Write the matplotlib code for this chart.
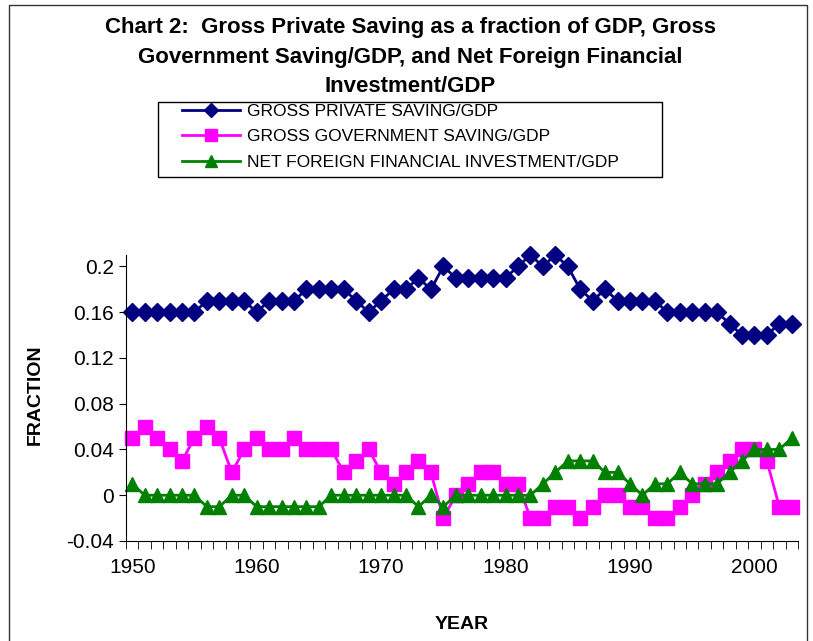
import numpy as np
import matplotlib
matplotlib.use('Agg')
from matplotlib import pyplot as plt
from matplotlib.patches import Rectangle
from matplotlib.ticker import FixedLocator, FuncFormatter

years = np.arange(1950, 2004)

private = [0.16, 0.16, 0.16, 0.16, 0.16, 0.16, 0.17, 0.17, 0.17, 0.17,
           0.16, 0.17, 0.17, 0.17, 0.18, 0.18, 0.18, 0.18, 0.17, 0.16,
           0.17, 0.18, 0.18, 0.19, 0.18, 0.20, 0.19, 0.19, 0.19, 0.19,
           0.19, 0.20, 0.21, 0.20, 0.21, 0.20, 0.18, 0.17, 0.18, 0.17,
           0.17, 0.17, 0.17, 0.16, 0.16, 0.16, 0.16, 0.16, 0.15, 0.14,
           0.14, 0.14, 0.15, 0.15]

government = [0.05, 0.06, 0.05, 0.04, 0.03, 0.05, 0.06, 0.05, 0.02, 0.04,
              0.05, 0.04, 0.04, 0.05, 0.04, 0.04, 0.04, 0.02, 0.03, 0.04,
              0.02, 0.01, 0.02, 0.03, 0.02, -0.02, 0.00, 0.01, 0.02, 0.02,
              0.01, 0.01, -0.02, -0.02, -0.01, -0.01, -0.02, -0.01, 0.00, 0.00,
              -0.01, -0.01, -0.02, -0.02, -0.01, 0.00, 0.01, 0.02, 0.03, 0.04,
              0.04, 0.03, -0.01, -0.01]

foreign = [0.01, 0.00, 0.00, 0.00, 0.00, 0.00, -0.01, -0.01, 0.00, 0.00,
           -0.01, -0.01, -0.01, -0.01, -0.01, -0.01, 0.00, 0.00, 0.00, 0.00,
           0.00, 0.00, 0.00, -0.01, 0.00, -0.01, 0.00, 0.00, 0.00, 0.00,
           0.00, 0.00, 0.00, 0.01, 0.02, 0.03, 0.03, 0.03, 0.02, 0.02,
           0.01, 0.00, 0.01, 0.01, 0.02, 0.01, 0.01, 0.01, 0.02, 0.03,
           0.04, 0.04, 0.04, 0.05]

labels = ['GROSS PRIVATE SAVING/GDP',
          'GROSS GOVERNMENT SAVING/GDP',
          'NET FOREIGN FINANCIAL INVESTMENT/GDP']

plt.rcParams['font.family'] = ['Liberation Sans', 'DejaVu Sans']

W, H = 813, 641
fig = plt.figure(figsize=(W / 100, H / 100), dpi=100)

# outer chart border
fig.patches.append(Rectangle((9 / W, -0.01), 798 / W, 1 - 5 / H + 0.01,
                             transform=fig.transFigure, fill=False,
                             edgecolor='#333333', linewidth=1))
# legend frame drawn by hand (wide side padding)
fig.patches.append(Rectangle((158 / W, 1 - 177 / H), 504 / W, 75 / H,
                             transform=fig.transFigure, fill=False,
                             edgecolor='black', linewidth=1))

ax = fig.add_axes([126 / W, 1 - 541 / H, (798 - 126) / W, (541 - 255) / H])

ax.plot(years, private, color='#000080', lw=2, marker='D', ms=9,
        label=labels[0], clip_on=False)
ax.plot(years, government, color='#FF00FF', lw=2, marker='s', ms=10,
        label=labels[1], clip_on=False)
ax.plot(years, foreign, color='#008000', lw=2, marker='^', ms=10,
        label=labels[2], clip_on=False)

ax.set_xlim(1949.5, 2003.5)
ax.set_ylim(-0.04, 0.21)
for s in ['top', 'right']:
    ax.spines[s].set_visible(False)

ax.set_yticks([-0.04, 0, 0.04, 0.08, 0.12, 0.16, 0.2])
ax.yaxis.set_major_formatter(FuncFormatter(lambda v, p: f'{v:g}'))
ax.set_xticks(range(1950, 2001, 10))
ax.xaxis.set_minor_locator(FixedLocator(np.arange(1949.5, 2004, 1)))
ax.tick_params(axis='x', which='major', length=0, labelsize=15, pad=12)
ax.tick_params(axis='x', which='minor', length=6, direction='out')
ax.tick_params(axis='y', length=5, direction='out', labelsize=15)

ax.set_xlabel('YEAR', fontsize=14, fontweight='bold', labelpad=28)
fig.text(35 / W, 1 - 395 / H, 'FRACTION', fontsize=14, fontweight='bold',
         rotation=90, ha='center', va='center')

fig.text(410 / W, 1 - 57 / H,
         'Chart 2:  Gross Private Saving as a fraction of GDP, Gross\n'
         'Government Saving/GDP, and Net Foreign Financial\n'
         'Investment/GDP',
         fontsize=16, fontweight='bold', ha='center', va='center',
         linespacing=1.5)

leg = fig.legend(loc='upper left', bbox_to_anchor=(179 / W, 1 - 100 / H),
                 borderaxespad=0, frameon=False,
                 fontsize=12.5, handlelength=3.3, labelspacing=0.6,
                 borderpad=0.2, handletextpad=0.4, markerscale=0.8)

fig.savefig('out.png', dpi=100)
